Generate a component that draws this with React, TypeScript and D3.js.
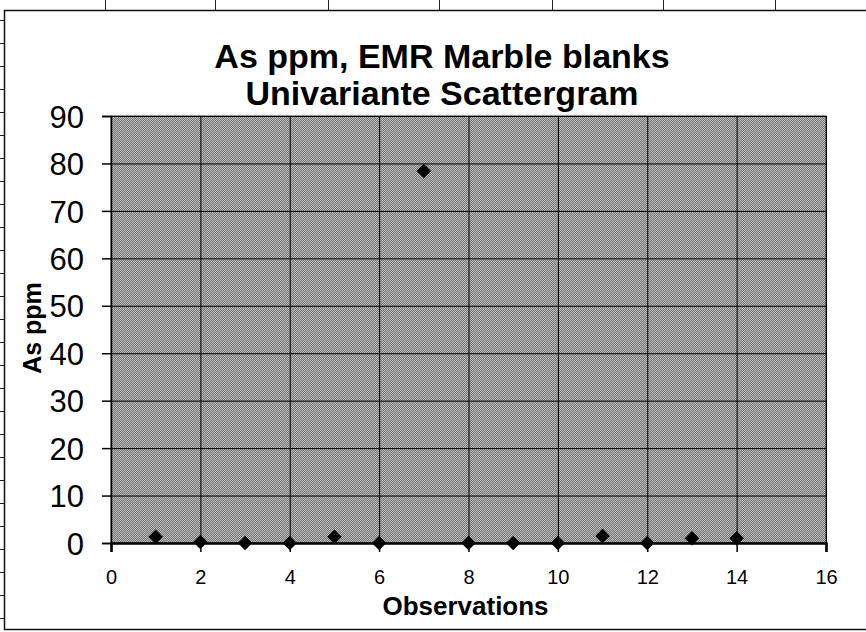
import React, { useEffect, useRef } from 'react'
import * as d3 from 'd3'

// chart data
const observations = [1, 2, 3, 4, 5, 6, 7, 8, 9, 10, 11, 12, 13, 14]
const asPpm = [1.3, 0.2, 0, 0, 1.3, 0, 78.4, 0, 0, 0, 1.5, 0, 1, 1]
const xTicks = [0, 2, 4, 6, 8, 10, 12, 14, 16]
const yTicks = [0, 10, 20, 30, 40, 50, 60, 70, 80, 90]
const titleLines = ['As ppm, EMR Marble blanks', 'Univariante Scattergram']

// spreadsheet cell edges showing around the chart object
const sheetColumns = [105, 215, 328, 439, 552, 663, 775]

const W = 866
const H = 632
const FONT = "'Liberation Sans', Arial, sans-serif"

const App: React.FC = () => {
  const svgRef = useRef<SVGSVGElement>(null)

  useEffect(() => {
    if (!svgRef.current) return
    const margin = { top: 116, right: 40, bottom: 89, left: 111 }
    const innerWidth = W - margin.left - margin.right
    const innerHeight = H - margin.top - margin.bottom

    const xScale = d3.scaleLinear().domain([0, 16]).range([0, innerWidth])
    const yScale = d3.scaleLinear().domain([0, 90]).range([innerHeight, 0])

    const svg = d3.select(svgRef.current)
    svg.selectAll('*').remove()
    svg.attr('width', W).attr('height', H)

    // dithered grey like the photocopy
    const defs = svg.append('defs')
    const pat = defs
      .append('pattern')
      .attr('id', 'dither')
      .attr('width', 2)
      .attr('height', 2)
      .attr('patternUnits', 'userSpaceOnUse')
    pat.append('rect').attr('width', 2).attr('height', 2).attr('fill', '#bababa')
    pat.append('rect').attr('width', 1).attr('height', 1).attr('fill', '#777777')
    pat.append('rect').attr('x', 1).attr('y', 1).attr('width', 1).attr('height', 1).attr('fill', '#777777')

    svg.append('rect').attr('width', W).attr('height', H).attr('fill', '#ffffff')

    // sheet grid behind the chart
    const sheet = svg.append('g').attr('stroke', '#222').attr('stroke-width', 1)
    sheetColumns.forEach((cx) => {
      sheet.append('line').attr('x1', cx + 0.5).attr('x2', cx + 0.5).attr('y1', 0).attr('y2', 10)
    })
    d3.range(20, H, 23).forEach((ry) => {
      sheet.append('line').attr('x1', 0).attr('x2', 4).attr('y1', ry + 0.5).attr('y2', ry + 0.5)
    })

    // chart object frame
    svg
      .append('rect')
      .attr('x', 4.5)
      .attr('y', 10.5)
      .attr('width', W)
      .attr('height', 619)
      .attr('fill', '#ffffff')
      .attr('stroke', '#111')
      .attr('stroke-width', 1.5)

    // title
    svg
      .append('text')
      .attr('x', 442)
      .attr('y', 68)
      .attr('text-anchor', 'middle')
      .attr('font-family', FONT)
      .attr('font-weight', 'bold')
      .attr('font-size', 34)
      .attr('fill', '#000')
      .selectAll('tspan')
      .data(titleLines)
      .join('tspan')
      .attr('x', 442)
      .attr('dy', (_, i) => (i === 0 ? 0 : 37))
      .text((d) => d)

    const g = svg.append('g').attr('transform', `translate(${margin.left},${margin.top})`)

    // plot area
    g.append('rect')
      .attr('width', innerWidth)
      .attr('height', innerHeight)
      .attr('fill', 'url(#dither)')
      .attr('stroke', '#333')
      .attr('stroke-width', 1)

    // grid
    g.append('g')
      .call(
        d3
          .axisLeft(yScale)
          .tickValues(yTicks)
          .tickSize(-innerWidth)
          .tickFormat(() => ''),
      )
      .call((s) => s.select('.domain').remove())
      .selectAll('.tick line')
      .attr('stroke', '#000')
      .attr('stroke-width', 1)

    g.append('g')
      .attr('transform', `translate(0,${innerHeight})`)
      .call(
        d3
          .axisBottom(xScale)
          .tickValues(xTicks)
          .tickSize(-innerHeight)
          .tickFormat(() => ''),
      )
      .call((s) => s.select('.domain').remove())
      .selectAll('.tick line')
      .attr('stroke', '#000')
      .attr('stroke-width', 1)

    // Y axis
    const yAxis = g
      .append('g')
      .call(d3.axisLeft(yScale).tickValues(yTicks).tickSize(9).tickPadding(18))
    yAxis.select('.domain').attr('stroke', '#000').attr('stroke-width', 1.5)
    yAxis.selectAll('.tick line').attr('stroke', '#000').attr('stroke-width', 1.5)
    yAxis
      .selectAll('.tick text')
      .attr('font-family', FONT)
      .attr('font-size', 31)
      .attr('fill', '#000')
      .attr('dy', '0.36em')

    // X axis
    const xAxis = g
      .append('g')
      .attr('transform', `translate(0,${innerHeight})`)
      .call(d3.axisBottom(xScale).tickValues(xTicks).tickSize(9).tickPadding(18))
    xAxis.select('.domain').attr('stroke', '#000').attr('stroke-width', 2.5)
    xAxis.selectAll('.tick line').attr('stroke', '#000').attr('stroke-width', 1.5)
    xAxis
      .selectAll('.tick text')
      .attr('font-family', FONT)
      .attr('font-size', 20)
      .attr('fill', '#000')

    // points
    const diamond = d3.symbol().type(d3.symbolDiamond2).size(135)
    g.append('g')
      .selectAll('path')
      .data(observations)
      .join('path')
      .attr('transform', (d, i) => `translate(${xScale(d)},${yScale(asPpm[i])})`)
      .attr('d', diamond())
      .attr('fill', '#000')

    // axis titles
    g.append('text')
      .attr('x', innerWidth / 2 - 3)
      .attr('y', innerHeight + 72)
      .attr('text-anchor', 'middle')
      .attr('font-family', FONT)
      .attr('font-weight', 'bold')
      .attr('font-size', 26)
      .attr('fill', '#000')
      .text('Observations')

    g.append('text')
      .attr('transform', 'rotate(-90)')
      .attr('x', -(328 - margin.top))
      .attr('y', -margin.left + 41)
      .attr('text-anchor', 'middle')
      .attr('font-family', FONT)
      .attr('font-weight', 'bold')
      .attr('font-size', 25)
      .attr('fill', '#000')
      .text('As ppm')
  }, [])

  return (
    <div style={{ position: 'absolute', left: 0, top: 0, width: W, height: H, overflow: 'hidden' }}>
      <svg ref={svgRef} style={{ display: 'block' }}></svg>
    </div>
  )
}

export default App
